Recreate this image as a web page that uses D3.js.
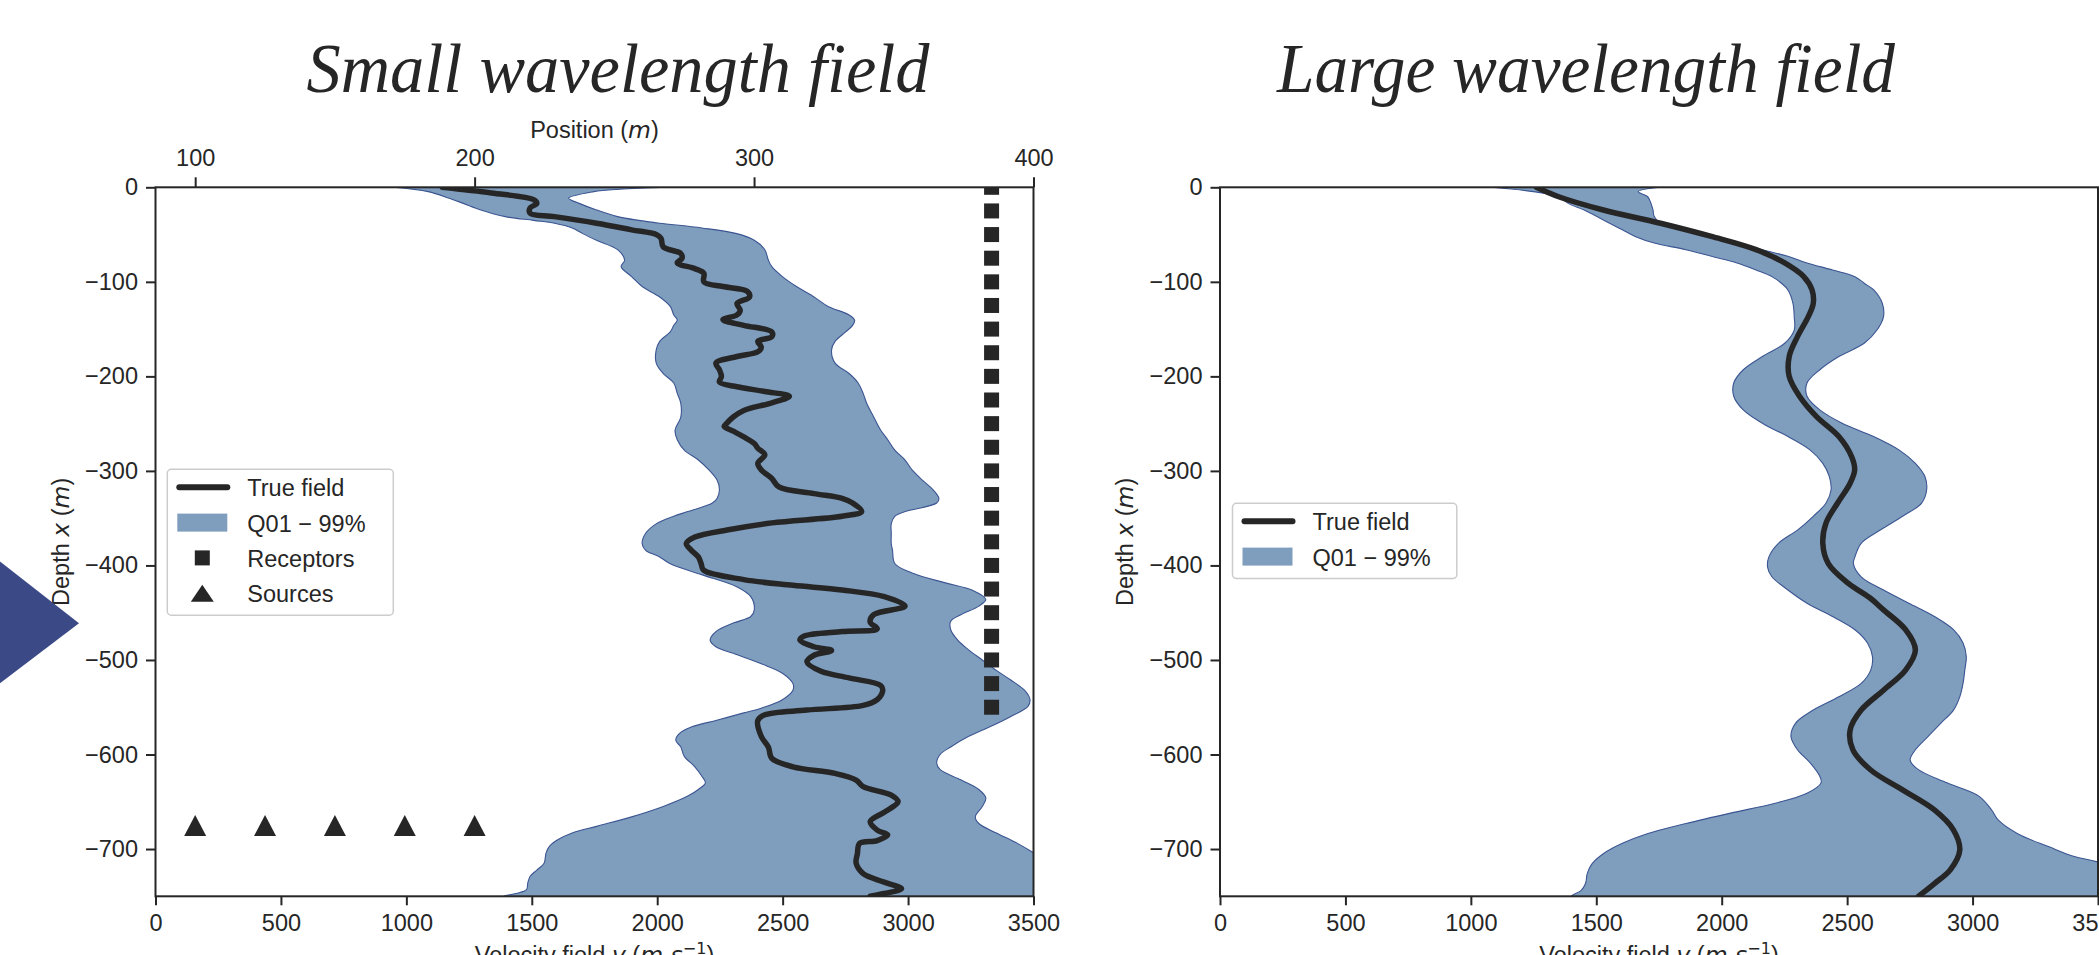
<!DOCTYPE html>
<html>
<head>
<meta charset="utf-8">
<script src="https://cdn.jsdelivr.net/npm/d3@7"></script>
<style>
  body { margin: 0; background: #fff; }
  svg { display: block; }
</style>
</head>
<body>
<svg id="chart" width="2099" height="955"></svg>
<script>
// ---- data: [depth (m), velocity (m/s)] ----
const smallTrue = [[0,1143],[-6,1339],[-13,1507],[-17,1520],[-22,1493],[-27.5,1493],[-31,1590],[-38,1758],[-45,1898],[-50,1996],[-54,2015],[-63,2024],[-70,2094],[-75,2099],[-80,2080],[-86,2150],[-91,2186],[-100,2186],[-105,2262],[-110,2359],[-116,2368],[-123,2318],[-130,2331],[-135,2318],[-140,2262],[-146,2345],[-153,2457],[-158,2457],[-163,2401],[-169,2415],[-174,2401],[-179,2318],[-186,2234],[-193,2248],[-200,2256],[-206,2248],[-211,2318],[-216,2429],[-221,2527],[-228,2457],[-236,2345],[-243,2303],[-250,2276],[-253,2267],[-258,2303],[-264,2345],[-271,2387],[-276,2401],[-283,2429],[-292,2401],[-299,2415],[-308,2457],[-317,2485],[-324,2625],[-329,2737],[-334,2779],[-343,2815],[-348,2737],[-355,2457],[-362,2290],[-370,2150],[-377,2116],[-384,2136],[-391,2164],[-398,2175],[-405,2185],[-415,2345],[-421,2541],[-426,2737],[-433,2905],[-443,2988],[-452,2863],[-460,2849],[-467,2877],[-470,2737],[-475,2583],[-479,2569],[-486,2625],[-490,2695],[-495,2625],[-502,2597],[-512,2653],[-519,2765],[-527,2891],[-532,2899],[-542,2877],[-548,2821],[-553,2597],[-558,2429],[-564,2401],[-581,2415],[-592,2443],[-604,2457],[-613,2541],[-620,2709],[-627,2793],[-634,2821],[-643,2933],[-650,2960],[-661,2905],[-671,2849],[-680,2877],[-685,2919],[-691,2877],[-694,2807],[-705,2798],[-715,2793],[-726,2821],[-735,2905],[-742,2974],[-747,2905],[-750,2849]];

const smallQ01 = [[0,948],[-4.6,1087],[-11.6,1171],[-17,1227],[-24,1297],[-31,1395],[-35,1507],[-38,1591],[-43,1661],[-49,1703],[-56,1758],[-66,1842],[-77,1870],[-84,1856],[-94.5,1898],[-105,1940],[-116,2010],[-126,2052],[-135,2066],[-140.5,2080],[-146,2066],[-153,2052],[-163,2010],[-172,1996],[-186,1996],[-197,2024],[-207,2066],[-218,2080],[-228.5,2094],[-243,2094],[-257,2071],[-267,2080],[-278,2108],[-288.5,2164],[-299,2206],[-310,2239],[-320,2248],[-329,2239],[-334,2220],[-343,2122],[-348,2066],[-356,1996],[-366,1954],[-377,1940],[-384,1954],[-391,2010],[-398,2050],[-410,2180],[-422.5,2317],[-433,2373],[-447,2387],[-454,2373],[-461,2303],[-470,2234],[-479,2211],[-486,2234],[-493,2303],[-504,2415],[-514,2499],[-525,2541],[-532,2541],[-542,2499],[-551,2415],[-556,2345],[-564,2234],[-571,2136],[-578,2088],[-585,2074],[-592,2094],[-602,2108],[-613,2150],[-623,2178],[-630,2192],[-637,2164],[-644,2122],[-655,2024],[-666,1898],[-676,1758],[-683,1661],[-690,1605],[-697,1571],[-704,1557],[-715,1549],[-722,1521],[-729,1493],[-736,1484],[-743,1479],[-747,1437],[-750,1389]];

const smallQ99 = [[0,2050],[-2,1850],[-4.6,1747],[-11.6,1647],[-17,1689],[-24,1758],[-31,1842],[-35,1926],[-38,2010],[-43,2178],[-49,2317],[-56,2387],[-66,2429],[-77,2443],[-84,2457],[-94.5,2499],[-105,2555],[-116,2625],[-126,2681],[-135,2765],[-140.5,2787],[-146,2779],[-153,2751],[-163,2709],[-172,2695],[-186,2709],[-197,2765],[-207,2801],[-218,2821],[-228.5,2835],[-243,2863],[-257,2891],[-267,2919],[-278,2947],[-288.5,2988],[-299,3016],[-310,3058],[-320,3100],[-329,3123],[-334,3114],[-343,2988],[-348,2947],[-356,2933],[-366,2933],[-377,2933],[-384,2938],[-398,2947],[-408,3016],[-419,3156],[-426,3254],[-436,3310],[-443,3282],[-452,3212],[-459,3170],[-468,3170],[-479,3198],[-489,3240],[-500,3296],[-511,3352],[-521,3408],[-532,3464],[-542,3486],[-549,3478],[-560,3408],[-571,3324],[-581,3240],[-592,3170],[-600,3128],[-609,3114],[-616,3128],[-627,3212],[-637,3282],[-646,3310],[-655,3296],[-666,3268],[-673,3282],[-683,3352],[-694,3436],[-704,3500],[-715,3560],[-730,3620],[-750,3680]];

const largeTrue = [[0,1261],[-10,1350],[-24,1528],[-38,1756],[-52,1959],[-66,2137],[-80,2251],[-94.5,2327],[-108.6,2360],[-122.7,2365],[-136.8,2345],[-158,2302],[-179,2269],[-200,2269],[-221,2310],[-242.6,2378],[-263.7,2467],[-285,2518],[-299,2530],[-313,2512],[-334,2462],[-355,2416],[-376.6,2403],[-398,2425],[-419,2505],[-435,2594],[-447,2645],[-468,2733],[-489.5,2772],[-510.7,2733],[-532,2645],[-553,2556],[-574,2512],[-595.2,2523],[-616.4,2594],[-637.5,2721],[-658.7,2848],[-679.9,2924],[-701,2949],[-722,2911],[-736.5,2848],[-750,2784]];

const largeQ01 = [[0,1084],[-4.6,1249],[-10,1350],[-17,1388],[-24,1452],[-31,1503],[-38,1553],[-45,1604],[-52,1655],[-59,1731],[-66,1857],[-73,1959],[-80,2061],[-87.5,2137],[-94.5,2200],[-101.5,2238],[-108.6,2264],[-122.7,2284],[-136.8,2289],[-151,2289],[-165,2251],[-179,2162],[-193,2086],[-207,2048],[-221,2048],[-235.5,2086],[-249.6,2162],[-263.7,2264],[-278,2353],[-292,2403],[-306,2429],[-320,2436],[-334,2416],[-348,2365],[-362.6,2302],[-376.6,2226],[-391,2188],[-402,2183],[-412,2200],[-426,2264],[-440,2340],[-454,2442],[-468,2531],[-482,2581],[-496.5,2601],[-510.7,2594],[-524.8,2556],[-539,2467],[-553,2365],[-567,2294],[-581,2276],[-595,2302],[-609,2353],[-623,2391],[-630,2396],[-641,2340],[-651.6,2213],[-662,2035],[-673,1858],[-683.6,1706],[-694,1604],[-705,1528],[-716,1482],[-726,1464],[-736.5,1457],[-744,1439],[-750,1401]];

const largeQ99 = [[0,1756],[-4.6,1667],[-10,1705],[-17,1718],[-24,1726],[-31,1731],[-38,1756],[-45,1857],[-52,1959],[-59,2061],[-66,2162],[-73,2264],[-80,2340],[-87.5,2442],[-94.5,2531],[-101.5,2568],[-108.6,2606],[-122.7,2640],[-136.8,2645],[-151,2619],[-165,2568],[-179,2467],[-193,2391],[-207,2340],[-221,2340],[-235.5,2391],[-249.6,2480],[-263.7,2606],[-278,2708],[-292,2772],[-306,2810],[-320,2817],[-334,2797],[-348,2721],[-362.6,2632],[-376.6,2556],[-391,2531],[-398,2525],[-412,2556],[-426,2645],[-440,2746],[-454,2848],[-468,2924],[-482,2962],[-496.5,2975],[-510.7,2969],[-524.8,2962],[-539,2949],[-553,2924],[-567,2873],[-581,2822],[-595,2772],[-606,2751],[-616,2784],[-630,2898],[-644,3025],[-658.7,3076],[-669,3101],[-683.6,3178],[-697.7,3305],[-708,3406],[-713.6,3497],[-730,3650],[-750,3750]];

// acquisition geometry (position in m on the top axis, depth in m)
const sourcePositions = [100, 125, 150, 175, 200];
const sourceDepth = -675;
const receptorPosition = 385;
const receptorDepths = [0,-25,-50,-75,-100,-125,-150,-175,-200,-225,-250,-275,-300,-325,-350,-375,-400,-425,-450,-475,-500,-525,-550];

const depthTicks = [0,-100,-200,-300,-400,-500,-600,-700];
const velocityTicks = [0,500,1000,1500,2000,2500,3000,3500];
const positionTicks = [100,200,300,400];

const titles = ["Small wavelength field", "Large wavelength field"];
const legendLabels = ["True field", "Q01 \u2212 99%", "Receptors", "Sources"];

// ---- style ----
const ink = "#262626";
const bandFill = "#7f9dbd";
const bandEdge = "#3b5592";
const sans = "'Liberation Sans', Arial, sans-serif";
const mathFont = "'DejaVu Sans', sans-serif";
const serif = "'Liberation Serif', 'DejaVu Serif', serif";
const fs = 23.5;

const svg = d3.select("#chart");
const yTop = 187.3, yBot = 896.3;
const y = d3.scaleLinear().domain([-750, 0]).range([yBot, yTop]);
const fmtMinus = d => d < 0 ? "\u2212" + Math.abs(d) : String(d);
const fmtPlain = d => String(d);

const panels = [
  {id: 0, x0: 155.5, x1: 1033.5, truth: smallTrue, lo: smallQ01, hi: smallQ99, acquisition: true,
   title: {cx: 618, len: 623}, legend: {x: 167.3, y: 469.3, w: 226, rows: 4}},
  {id: 1, x0: 1220, x1: 2098, truth: largeTrue, lo: largeQ01, hi: largeQ99, acquisition: false,
   title: {cx: 1586, len: 618}, legend: {x: 1232.5, y: 503.3, w: 224.3, rows: 2}}
];

function triPath(w, h) {
  return `M0,${-h / 2}L${w / 2},${h / 2}L${-w / 2},${h / 2}Z`;
}

function styleAxis(g) {
  g.attr("font-size", fs).attr("font-family", sans);
  g.select(".domain").remove();
  g.selectAll(".tick line").attr("stroke", ink).attr("stroke-width", 2);
  g.selectAll(".tick text").attr("fill", ink);
}

function drawPanel(p) {
  const x = d3.scaleLinear().domain([0, 3500]).range([p.x0, p.x1]);
  const g = svg.append("g");

  const clipId = "clip" + p.id;
  svg.append("clipPath").attr("id", clipId).append("rect")
    .attr("x", p.x0).attr("y", yTop).attr("width", p.x1 - p.x0).attr("height", yBot - yTop);
  const plot = g.append("g").attr("clip-path", `url(#${clipId})`);

  const line = d3.line()
    .x(d => x(d[1]))
    .y(d => y(d[0]))
    .curve(d3.curveCatmullRom.alpha(0.5));

  // quantile band: Q01 going down, Q99 coming back up
  const band = p.lo.concat(p.hi.slice().reverse());
  plot.append("path")
    .attr("d", line(band) + "Z")
    .attr("fill", bandFill)
    .attr("stroke", bandEdge)
    .attr("stroke-width", 1.1);

  plot.append("path")
    .attr("d", line(p.truth))
    .attr("fill", "none")
    .attr("stroke", ink)
    .attr("stroke-width", 5.5)
    .attr("stroke-linejoin", "round")
    .attr("stroke-linecap", "round");

  if (p.acquisition) {
    // twin top axis: position in m
    const pos = d3.scaleLinear().domain([85.8, 400]).range([p.x0, p.x1]);
    plot.selectAll(".receptor").data(receptorDepths).join("rect")
      .attr("class", "receptor")
      .attr("x", pos(receptorPosition) - 7.5)
      .attr("y", d => y(d) - 7.5)
      .attr("width", 15).attr("height", 15)
      .attr("fill", ink);
    plot.selectAll(".source").data(sourcePositions).join("path")
      .attr("class", "source")
      .attr("transform", d => `translate(${pos(d)},${y(sourceDepth)})`)
      .attr("d", triPath(22, 21))
      .attr("fill", ink);

    const top = g.append("g")
      .attr("transform", `translate(0,${yTop})`)
      .call(d3.axisTop(pos).tickValues(positionTicks).tickSize(10).tickPadding(11).tickFormat(fmtPlain));
    styleAxis(top);

    const pl = g.append("text")
      .attr("x", (p.x0 + p.x1) / 2).attr("y", 138)
      .attr("text-anchor", "middle")
      .attr("font-family", sans).attr("font-size", fs).attr("fill", ink);
    pl.append("tspan").text("Position (");
    pl.append("tspan").attr("font-family", mathFont).attr("font-style", "italic").text("m");
    pl.append("tspan").text(")");
  }

  // spines
  g.append("rect")
    .attr("x", p.x0).attr("y", yTop)
    .attr("width", p.x1 - p.x0).attr("height", yBot - yTop)
    .attr("fill", "none").attr("stroke", ink).attr("stroke-width", 2);

  const left = g.append("g")
    .attr("transform", `translate(${p.x0},0)`)
    .call(d3.axisLeft(y).tickValues(depthTicks).tickSize(9.5).tickPadding(8).tickFormat(fmtMinus));
  styleAxis(left);

  const bottom = g.append("g")
    .attr("transform", `translate(0,${yBot})`)
    .call(d3.axisBottom(x).tickValues(velocityTicks).tickSize(9).tickPadding(9).tickFormat(fmtPlain));
  styleAxis(bottom);

  // axis labels
  const yl = g.append("text")
    .attr("transform", `translate(${p.x0 - 87},${(yTop + yBot) / 2}) rotate(-90)`)
    .attr("text-anchor", "middle")
    .attr("font-family", sans).attr("font-size", fs).attr("fill", ink);
  yl.append("tspan").text("Depth ");
  yl.append("tspan").attr("font-family", mathFont).attr("font-style", "italic").text("x");
  yl.append("tspan").text(" (");
  yl.append("tspan").attr("font-family", mathFont).attr("font-style", "italic").text("m");
  yl.append("tspan").text(")");

  // sits partly below the bottom edge, as in the reference crop
  const xl = g.append("text")
    .attr("x", (p.x0 + p.x1) / 2).attr("y", 963)
    .attr("text-anchor", "middle")
    .attr("font-family", sans).attr("font-size", fs).attr("fill", ink);
  xl.append("tspan").text("Velocity field ");
  xl.append("tspan").attr("font-family", mathFont).attr("font-style", "italic").text("v");
  xl.append("tspan").text(" (");
  xl.append("tspan").attr("font-family", mathFont).attr("font-style", "italic").text("m.s");
  xl.append("tspan").attr("font-family", mathFont).attr("font-size", 16).attr("dy", -9).text("\u22121");
  xl.append("tspan").attr("dy", 9).text(")");

  // title
  g.append("text")
    .attr("x", p.title.cx).attr("y", 92)
    .attr("text-anchor", "middle")
    .attr("font-family", serif).attr("font-style", "italic")
    .attr("font-size", 70).attr("fill", ink)
    .attr("textLength", p.title.len).attr("lengthAdjust", "spacingAndGlyphs")
    .text(titles[p.id]);

  // legend
  const L = p.legend;
  const rowH = 35.3;
  const lg = g.append("g");
  lg.append("rect")
    .attr("x", L.x).attr("y", L.y)
    .attr("width", L.w).attr("height", 40 + (L.rows - 1) * rowH)
    .attr("rx", 4)
    .attr("fill", "#fff").attr("fill-opacity", 0.85)
    .attr("stroke", "#cccccc").attr("stroke-width", 1.5);
  legendLabels.slice(0, L.rows).forEach((lab, i) => {
    const cy = L.y + 18 + i * rowH;
    const sx = L.x + 10;
    if (i === 0) {
      lg.append("line").attr("x1", sx + 2).attr("x2", sx + 50).attr("y1", cy).attr("y2", cy)
        .attr("stroke", ink).attr("stroke-width", 6).attr("stroke-linecap", "round");
    } else if (i === 1) {
      lg.append("rect").attr("x", sx).attr("y", cy - 9).attr("width", 50).attr("height", 18)
        .attr("fill", bandFill);
    } else if (i === 2) {
      lg.append("rect").attr("x", sx + 25 - 7.5).attr("y", cy - 7.5).attr("width", 15).attr("height", 15)
        .attr("fill", ink);
    } else {
      lg.append("path").attr("transform", `translate(${sx + 25},${cy})`).attr("d", triPath(23, 17))
        .attr("fill", ink);
    }
    lg.append("text")
      .attr("x", L.x + 80).attr("y", cy + 9)
      .attr("font-family", sans).attr("font-size", fs).attr("fill", ink)
      .text(lab);
  });
}

panels.forEach(drawPanel);

// slide decoration overlapping the left edge
svg.append("path")
  .attr("d", "M0,561.5L79,623.3L0,683.3Z")
  .attr("fill", "#3b4a86");
</script>
</body>
</html>
